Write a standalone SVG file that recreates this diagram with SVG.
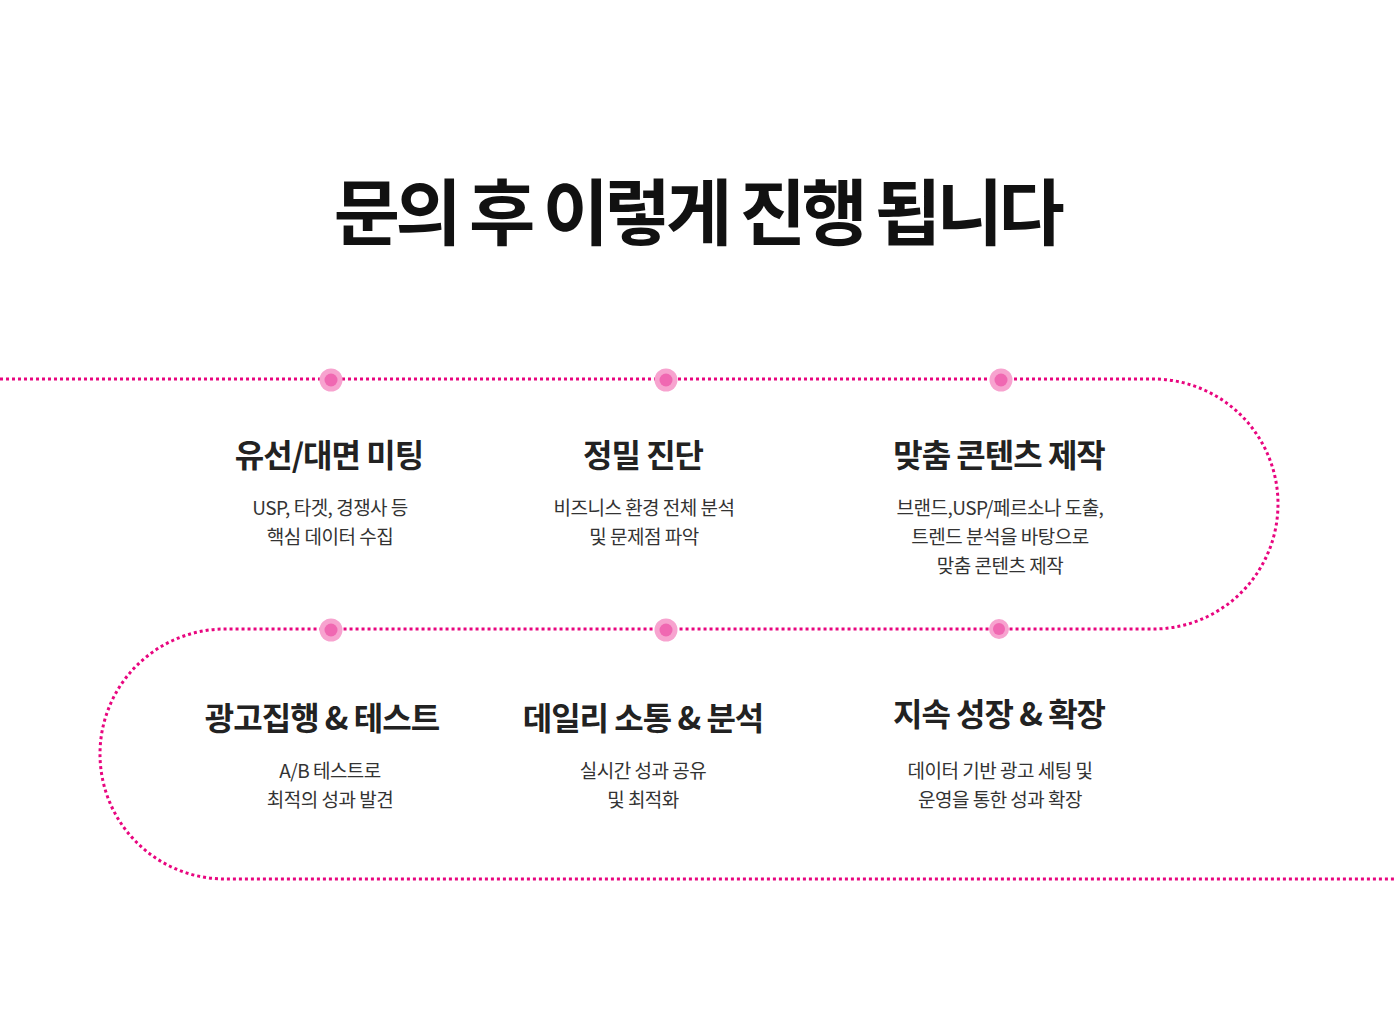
<svg xmlns="http://www.w3.org/2000/svg" width="1394" height="1029" viewBox="0 0 1394 1029">
<style>
.path{fill:none;stroke:#e8067f;stroke-width:3;stroke-dasharray:3 3}
.outer{fill:#f7a3cf}
.inner{fill:#f068b2}
.title{font-family:"Noto Sans CJK KR","Noto Sans",sans-serif;font-weight:700;font-size:72px;fill:#111;text-anchor:middle;letter-spacing:-4.5px}
.h{font-family:"Noto Sans CJK KR","Noto Sans",sans-serif;font-weight:700;font-size:32px;fill:#222;text-anchor:middle;letter-spacing:-1px}
.d{font-family:"Noto Sans CJK KR","Noto Sans",sans-serif;font-weight:400;font-size:19px;fill:#333;text-anchor:middle;letter-spacing:-0.5px}
</style>
<rect width="1394" height="1029" fill="#fff"/>
<text class="title" x="697" y="239">문의 후 이렇게 진행 됩니다</text>
<g id="connectors">
<path class="path" d="M0 379 H1153 A125 125 0 0 1 1153 629 H225 A125 125 0 0 0 225 879 H1394"/>
</g>
<g id="dots">
<circle class="outer" cx="331" cy="380" r="11.5"/><circle class="inner" cx="331" cy="380" r="6.5"/>
<circle class="outer" cx="666" cy="380" r="11.5"/><circle class="inner" cx="666" cy="380" r="6.5"/>
<circle class="outer" cx="1001" cy="380" r="11.5"/><circle class="inner" cx="1001" cy="380" r="6.5"/>
<circle class="outer" cx="331" cy="630" r="11.5"/><circle class="inner" cx="331" cy="630" r="6.5"/>
<circle class="outer" cx="666" cy="630" r="11.5"/><circle class="inner" cx="666" cy="630" r="6.5"/>
<circle class="outer" cx="999" cy="629" r="10"/><circle class="inner" cx="999" cy="629" r="6"/>
</g>
<g id="step1">
<text class="h" x="329" y="467">유선/대면 미팅</text>
<text class="d" x="330" y="515">USP, 타겟, 경쟁사 등</text>
<text class="d" x="330" y="544">핵심 데이터 수집</text>
</g>
<g id="step2">
<text class="h" x="643" y="467">정밀 진단</text>
<text class="d" x="644" y="515">비즈니스 환경 전체 분석</text>
<text class="d" x="644" y="544">및 문제점 파악</text>
</g>
<g id="step3">
<text class="h" x="999" y="467">맞춤 콘텐츠 제작</text>
<text class="d" x="1000" y="515">브랜드,USP/페르소나 도출,</text>
<text class="d" x="1000" y="544">트렌드 분석을 바탕으로</text>
<text class="d" x="1000" y="573">맞춤 콘텐츠 제작</text>
</g>
<g id="step4">
<text class="h" x="322" y="730">광고집행 &amp; 테스트</text>
<text class="d" x="330" y="778">A/B 테스트로</text>
<text class="d" x="330" y="807">최적의 성과 발견</text>
</g>
<g id="step5">
<text class="h" x="643" y="730">데일리 소통 &amp; 분석</text>
<text class="d" x="643" y="778">실시간 성과 공유</text>
<text class="d" x="643" y="807">및 최적화</text>
</g>
<g id="step6">
<text class="h" x="999" y="726">지속 성장 &amp; 확장</text>
<text class="d" x="1000" y="778">데이터 기반 광고 세팅 및</text>
<text class="d" x="1000" y="807">운영을 통한 성과 확장</text>
</g>
</svg>
